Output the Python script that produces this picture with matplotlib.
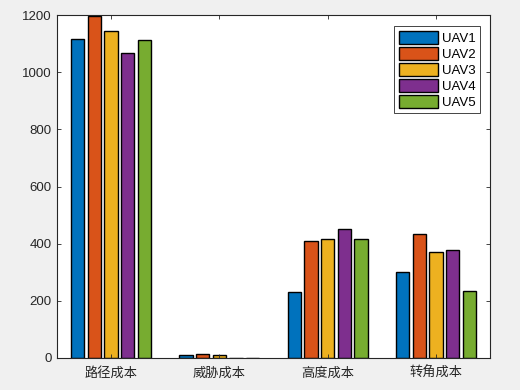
import matplotlib.pyplot as plt
import numpy as np

plt.rcParams['font.family'] = ['Liberation Sans', 'Noto Sans CJK SC', 'DejaVu Sans']

categories = ['路径成本', '威胁成本', '高度成本', '转角成本']
series = ['UAV1', 'UAV2', 'UAV3', 'UAV4', 'UAV5']
# rows: UAV1..UAV5, columns: categories
values = [
    [1116, 10, 231, 300],
    [1197, 14, 408, 433],
    [1144, 10, 417, 370],
    [1067, 0, 450, 377],
    [1113, 0, 417, 233],
]
colors = ['#0072BD', '#D95319', '#EDB120', '#7E2F8E', '#77AC30']

fig = plt.figure(figsize=(5.2, 3.9), dpi=100, facecolor='#f0f0f0')
ax = fig.add_axes([57 / 520, 1 - 358 / 390, 433 / 520, 343 / 390])

x = np.arange(1, len(categories) + 1)
n = len(series)
groupw = min(0.8, n / (n + 1.5))
pitch = groupw / n
for i, name in enumerate(series):
    off = (i - (n - 1) / 2) * pitch
    ax.bar(x + off, values[i], width=pitch * 0.8, color=colors[i],
           edgecolor='black', linewidth=1.0, label=name)

ax.set_xlim(0.5, 4.5)
ax.set_ylim(0, 1200)
ax.set_xticks(x)
ax.set_xticklabels(categories, family=['Noto Sans CJK SC'], fontsize=9,
                   fontweight='light')
ax.set_yticks(np.arange(0, 1201, 200))
ax.tick_params(direction='in', top=True, right=True, labelsize=9.5,
               colors='#262626', length=3, width=0.6, pad=4)
ax.tick_params(axis='x', pad=6)
for s in ax.spines.values():
    s.set_linewidth(0.8)
    s.set_color('#262626')
ax.set_zorder(1)

leg = ax.legend(loc='upper right', bbox_to_anchor=(0.977, 0.968), fontsize=9.5,
                fancybox=False, framealpha=1, edgecolor='#262626',
                handlelength=3.0, handleheight=1.15, handletextpad=0.25,
                labelspacing=0.15, borderpad=0.35, borderaxespad=0)
leg.get_frame().set_linewidth(0.6)

fig.savefig('out.png', dpi=100, facecolor=fig.get_facecolor())
